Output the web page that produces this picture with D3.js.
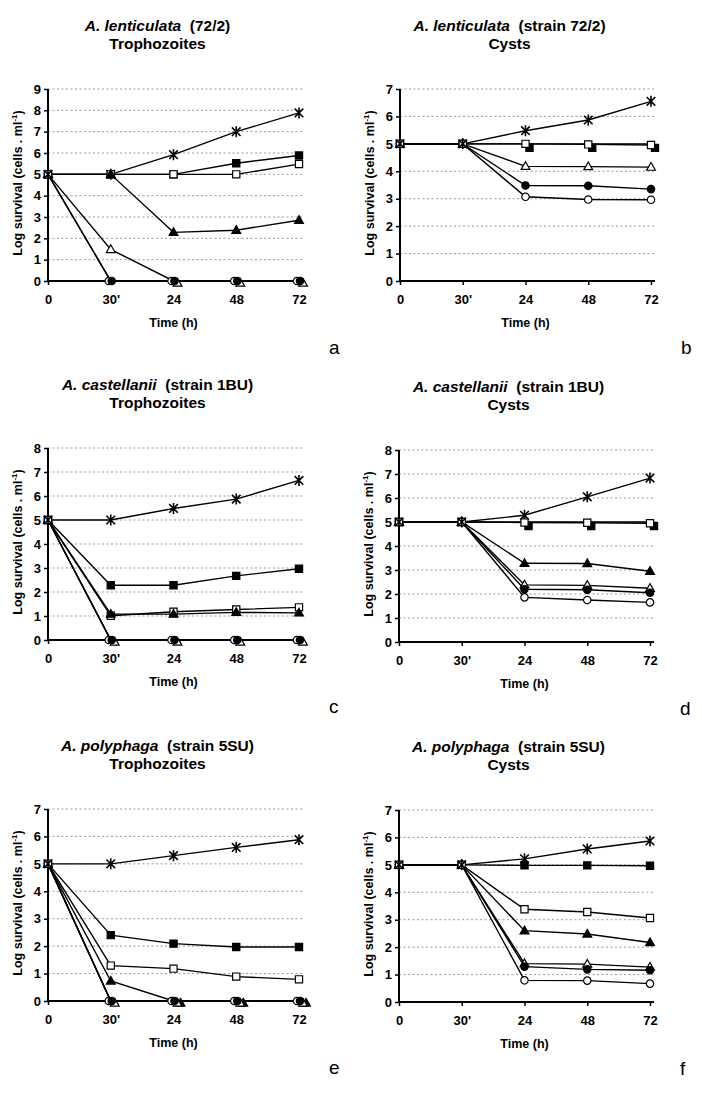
<!DOCTYPE html>
<html><head><meta charset="utf-8">
<script src="https://cdn.jsdelivr.net/npm/d3@7"></script>
<style>
body{margin:0;background:#fff;}
svg{display:block;font-family:"Liberation Sans",Arial,Helvetica,sans-serif;}
</style>
</head><body>
<svg id="chart" width="702" height="1098"></svg>
<script>
// ---------- DATA ----------
const categories = ["0", "30'", "24", "48", "72"];
const seriesKeys = ["star", "fsq", "osq", "ftri", "otri", "fcirc", "ocirc"];

const valuesA = {
  star:  [5, 5, 5.92, 7.0, 7.88],
  fsq:   [5, 5, 5, 5.52, 5.88],
  osq:   [5, 5, 5, 5, 5.48],
  ftri:  [5, 5, 2.28, 2.38, 2.85],
  otri:  [5, 1.48, 0, 0, 0],
  fcirc: [5, 0, 0, 0, 0],
  ocirc: [5, 0, 0, 0, 0]
};
const valuesB = {
  star:  [5, 5, 5.48, 5.87, 6.55],
  fsq:   [5, 5, 5, 5, 5],
  osq:   [5, 5, 5, 4.98, 4.96],
  otri:  [5, 5, 4.18, 4.17, 4.15],
  fcirc: [5, 5, 3.48, 3.47, 3.35],
  ocirc: [5, 5, 3.07, 2.97, 2.96]
};
const valuesC = {
  star:  [5, 5, 5.48, 5.87, 6.65],
  fsq:   [5, 2.28, 2.28, 2.67, 2.97],
  osq:   [5, 1.01, 1.18, 1.27, 1.36],
  ftri:  [5, 1.08, 1.08, 1.15, 1.13],
  otri:  [5, 0, 0, 0, 0],
  fcirc: [5, 0, 0, 0, 0],
  ocirc: [5, 0, 0, 0, 0]
};
const valuesD = {
  star:  [5, 5, 5.28, 6.05, 6.83],
  fsq:   [5, 5, 5, 5, 5],
  osq:   [5, 5, 4.98, 4.97, 4.95],
  ftri:  [5, 5, 3.28, 3.27, 2.95],
  otri:  [5, 5, 2.38, 2.36, 2.24],
  fcirc: [5, 5, 2.2, 2.18, 2.05],
  ocirc: [5, 5, 1.86, 1.75, 1.65]
};
const valuesE = {
  star:  [5, 5, 5.3, 5.6, 5.88],
  fsq:   [5, 2.4, 2.09, 1.97, 1.97],
  osq:   [5, 1.29, 1.18, 0.89, 0.79],
  ftri:  [5, 0.73, 0, 0, 0],
  otri:  [5, 0, 0, 0, 0],
  fcirc: [5, 0, 0, 0, 0],
  ocirc: [5, 0, 0, 0, 0]
};
const valuesF = {
  star:  [5, 5, 5.22, 5.58, 5.87],
  fsq:   [5, 5, 4.98, 4.98, 4.97],
  osq:   [5, 5, 3.38, 3.28, 3.06],
  ftri:  [5, 5, 2.6, 2.48, 2.17],
  otri:  [5, 5, 1.4, 1.38, 1.27],
  fcirc: [5, 5, 1.29, 1.19, 1.16],
  ocirc: [5, 5, 0.79, 0.78, 0.67]
};

const panelSpecies = ["A. lenticulata", "A. lenticulata", "A. castellanii", "A. castellanii", "A. polyphaga", "A. polyphaga"];
const panelStrain  = ["(72/2)", "(strain 72/2)", "(strain 1BU)", "(strain 1BU)", "(strain 5SU)", "(strain 5SU)"];
const panelStage   = ["Trophozoites", "Cysts", "Trophozoites", "Cysts", "Trophozoites", "Cysts"];
const panelLetters = ["a", "b", "c", "d", "e", "f"];
const panelYMax    = [9, 7, 8, 8, 7, 7];
const panelValues  = [valuesA, valuesB, valuesC, valuesD, valuesE, valuesF];
const xTitle = "Time (h)";

// ---------- LAYOUT / STYLE ----------
const PW = 251, PH = 192;
const layout = [
  {x: 48,  y: 89},  {x: 400, y: 89},
  {x: 48,  y: 448}, {x: 399, y: 450},
  {x: 48,  y: 809}, {x: 399, y: 810}
];
// small pixel offsets so that overlapping markers stay visible (style only)
const zeroDodge = {ocirc: [-2, 0], fcirc: [1, 0], otri: [4, 2], ftri: [7, 2]};
const panelDodge = [
  {zero: true},
  {sq: true},
  {zero: true},
  {sq: true},
  {zero: true},
  {}
];
const drawOrder = ["star", "fsq", "osq", "ftri", "ocirc", "otri", "fcirc"];
// order used where every series coincides (the common starting point)
const clusterOrder = ["fcirc", "ftri", "fsq", "ocirc", "otri", "osq", "star"];

function markerPath(key) {
  switch (key) {
    case "fsq": case "osq": return "M-3.6,-3.6H3.6V3.6H-3.6Z";
    case "ftri": case "otri": return "M0,-4.6L4.4,3.1H-4.4Z";
    case "fcirc": case "ocirc": return d3.arc()({innerRadius:0, outerRadius:3.7, startAngle:0, endAngle:2*Math.PI});
    case "star": return "M-4.3,-4.3L4.3,4.3M-4.3,4.3L4.3,-4.3M0,-5.5V5.5";
  }
}
function markerFill(key) {
  if (key === "star") return "none";
  return key[0] === "f" ? "#000" : "#fff";
}

const svg = d3.select("#chart");
svg.append("rect").attr("width", 702).attr("height", 1098).attr("fill", "#fff");

panelValues.forEach((vals, pi) => {
  const L = layout[pi];
  const g = svg.append("g").attr("transform", `translate(${L.x},${L.y})`);
  const x = d3.scalePoint().domain(categories).range([0, PW]).padding(0);
  const y = d3.scaleLinear().domain([0, panelYMax[pi]]).range([PH, 0]);

  // gridlines
  const gridVals = d3.range(1, panelYMax[pi] + 1);
  g.append("g").selectAll("line").data(gridVals).join("line")
    .attr("x1", 0).attr("x2", PW + 4)
    .attr("y1", d => y(d)).attr("y2", d => y(d))
    .attr("stroke", "#999").attr("stroke-width", 1).attr("stroke-dasharray", "2,2.5");

  // y axis
  const ya = g.append("g").call(d3.axisLeft(y).ticks(panelYMax[pi]).tickFormat(d3.format("d")).tickSize(4).tickPadding(3).tickSizeOuter(0));
  ya.select(".domain").remove();
  ya.selectAll(".tick line").attr("stroke", "#000").attr("stroke-width", 1.5);
  ya.selectAll("text").attr("font-size", 13).attr("font-weight", "bold").attr("fill", "#000")
    .attr("font-family", '"Liberation Sans",Arial,sans-serif');

  // x axis
  const xa = g.append("g").attr("transform", `translate(0,${PH})`)
    .call(d3.axisBottom(x).tickSize(4).tickPadding(10).tickSizeOuter(0));
  xa.select(".domain").remove();
  xa.selectAll(".tick line").attr("stroke", "#000").attr("stroke-width", 1.5);
  xa.selectAll("text").attr("font-size", 13).attr("font-weight", "bold").attr("fill", "#000")
    .attr("font-family", '"Liberation Sans",Arial,sans-serif');

  // axis lines
  g.append("line").attr("x1", 0).attr("x2", 0).attr("y1", 0).attr("y2", PH + 1)
    .attr("stroke", "#000").attr("stroke-width", 2);
  g.append("line").attr("x1", -1).attr("x2", PW + 4).attr("y1", PH).attr("y2", PH)
    .attr("stroke", "#000").attr("stroke-width", 2);

  // series lines
  const line = d3.line().x((d, i) => x(categories[i])).y(d => y(d));
  const keys = drawOrder.filter(k => vals[k]);
  g.append("g").selectAll("path").data(keys).join("path")
    .attr("d", k => line(vals[k]))
    .attr("fill", "none").attr("stroke", "#000").attr("stroke-width", 1.4);

  // markers
  const normal = [], cluster = [];
  categories.forEach((c, i) => {
    const allSame = keys.every(k => vals[k][i] === vals[keys[0]][i]);
    if (allSame) {
      clusterOrder.filter(k => vals[k]).forEach(k => cluster.push({k, v: vals[k][i], i, dx: 0, dy: 0}));
    } else {
      keys.forEach(k => {
        const v = vals[k][i];
        let dx = 0, dy = 0;
        const dg = panelDodge[pi];
        if (dg.zero && v === 0 && zeroDodge[k]) { dx = zeroDodge[k][0]; dy = zeroDodge[k][1]; }
        if (dg.sq && k === "fsq") { dx = 4; dy = 4; }
        normal.push({k, v, i, dx, dy});
      });
    }
  });
  normal.sort((a, b) => keys.indexOf(a.k) - keys.indexOf(b.k));
  const pts = normal.concat(cluster);
  g.append("g").selectAll("path").data(pts).join("path")
    .attr("transform", d => `translate(${x(categories[d.i]) + d.dx},${y(d.v) + d.dy})`)
    .attr("d", d => markerPath(d.k))
    .attr("fill", d => markerFill(d.k))
    .attr("stroke", "#000")
    .attr("stroke-width", d => d.k === "star" ? 1.6 : 1.2);

  // titles
  const cx = PW / 2 - 16;
  const t1 = g.append("text").attr("x", cx).attr("y", -58).attr("text-anchor", "middle")
    .attr("font-size", 15.5).attr("font-weight", "bold").attr("fill", "#000");
  t1.append("tspan").attr("font-style", "italic").text(panelSpecies[pi]);
  t1.append("tspan").text("\u00a0 " + panelStrain[pi]);
  g.append("text").attr("x", cx).attr("y", -40).attr("text-anchor", "middle")
    .attr("font-size", 15.5).attr("font-weight", "bold").attr("fill", "#000")
    .text(panelStage[pi]);

  // x title
  g.append("text").attr("x", PW / 2).attr("y", PH + 46).attr("text-anchor", "middle")
    .attr("font-size", 12.5).attr("font-weight", "bold").attr("fill", "#000").text(xTitle);

  // y title
  const yt = g.append("text").attr("transform", `translate(-26,${PH / 2 - 2}) rotate(-90)`)
    .attr("text-anchor", "middle").attr("font-size", 12.5).attr("font-weight", "bold").attr("fill", "#000");
  yt.append("tspan").text("Log survival (cells . ml");
  yt.append("tspan").attr("font-size", 8).attr("dy", -5).text("-1");
  yt.append("tspan").attr("dy", 5).text(")");

  // panel letter
  g.append("text").attr("x", PW + 30).attr("y", PH + 73)
    .attr("font-size", 19).attr("fill", "#000").text(panelLetters[pi]);
});
</script>
</body></html>
